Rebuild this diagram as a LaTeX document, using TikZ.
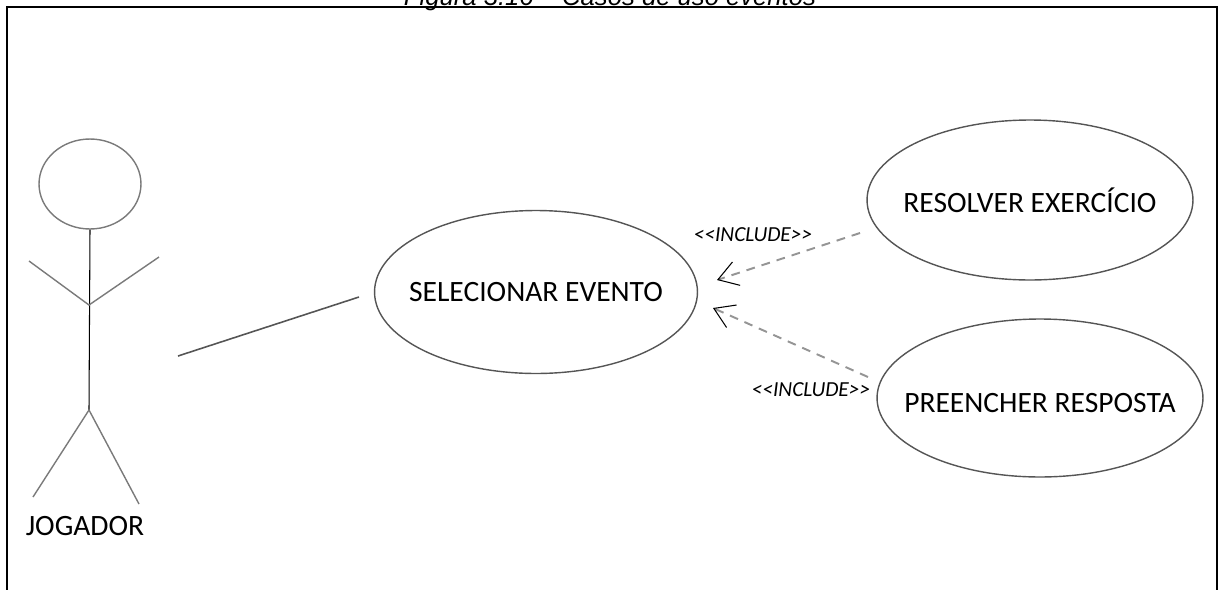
\documentclass[tikz,border=0pt]{standalone}
\usepackage{fontspec}
\setmainfont{Carlito}
\newfontfamily\legendafont{Liberation Sans}
\usetikzlibrary{shapes.geometric,arrows.meta}
\definecolor{contorno}{HTML}{555555}
\definecolor{membrocor}{HTML}{7A7A7A}
\definecolor{tracejado}{HTML}{959595}

\begin{document}
\begin{tikzpicture}[x=0.02cm, y=-0.02cm,
        casouso/.style={draw=contorno, line width=0.8pt, ellipse, inner sep=0pt},
        texto/.style={font=\fontsize{16.8}{20}\selectfont},
        membro/.style={draw=membrocor, line width=0.8pt},
        inclui/.style={draw=tracejado, line width=1.1pt, dash pattern=on 5pt off 4pt,
            -{Straight Barb[color=black, line width=0.6pt, length=11pt, width=14pt]}},
        rotulo/.style={font=\fontsize{12.2}{14}\selectfont\itshape}]
                \useasboundingbox (0, 0) rectangle (1221, 589);

                \clip (0, 0) rectangle (1221, 589);

                \node[anchor=base, font=\legendafont\itshape\fontsize{14.6}{17}\selectfont] (legenda) at (610, 5) {Figura 3.16 – Casos de uso eventos};

                \draw[line width=1.1pt] (7, 600) -- (7, 7) -- (1217, 7) -- (1217, 600);

                \node[draw=membrocor, line width=0.8pt, ellipse, inner sep=0pt, minimum width=2.04cm, minimum height=1.8cm] (cabeca) at (90, 184) {};

                \coordinate (ombro) at (89, 305);

                \coordinate (quadril) at (89, 410);

                \coordinate (maoE) at (29, 261);

                \coordinate (maoD) at (159, 257);

                \coordinate (peE) at (33, 497);

                \coordinate (peD) at (139, 504);

                \draw[line width=0.6pt] (cabeca.south) -- (quadril);

                \draw[membro] (maoE) -- (ombro) -- (maoD);

                \draw[membro] (peE) -- (quadril) -- (peD);

                \node[texto] (jogador) at (85, 526) {JOGADOR};

                \node[casouso, minimum width=6.46cm, minimum height=3.26cm] (selecionar) at (536, 292) {};

                \node[texto] (selecionartxt) at (selecionar.center) {SELECIONAR EVENTO};

                \node[casouso, minimum width=6.52cm, minimum height=3.2cm] (resolver) at (1030, 200) {};

                \node[texto] (resolvertxt) at (resolver.center) {RESOLVER EXERCÍCIO};

                \node[casouso, minimum width=6.52cm, minimum height=3.16cm] (preencher) at (1040, 398) {};

                \node[texto] (preenchertxt) at ([yshift=-0.1cm]preencher.center) {PREENCHER RESPOSTA};

                \coordinate (bracoA) at (178, 356);

                \coordinate (bracoB) at (359, 297);

                \draw[draw=contorno, line width=0.9pt] (bracoA) -- (bracoB);

                \coordinate (caudaA) at (860, 233);

                \coordinate (pontaA) at (717, 280);

                \coordinate (caudaB) at (868, 377);

                \coordinate (pontaB) at (713, 308);

                \draw[inclui] (caudaA) -- (pontaA);

                \draw[inclui] (caudaB) -- (pontaB);

                \node[rotulo] (incluiA) at (753, 235) {{<}{<}INCLUDE{>}{>}};

                \node[rotulo] (incluiB) at (811, 390) {{<}{<}INCLUDE{>}{>}};
            \end{tikzpicture}
\end{document}
